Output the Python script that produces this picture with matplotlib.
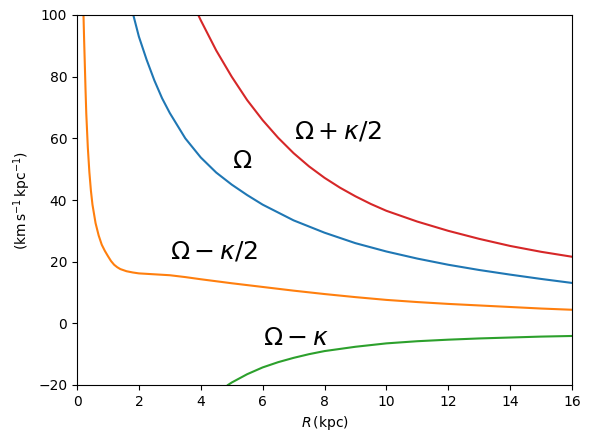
import matplotlib
matplotlib.use('Agg')
import matplotlib.pyplot as plt

# values (R in kpc, frequencies in km/s/kpc)
r_omega = [1.82, 2.0, 2.25, 2.5, 2.75, 3.0, 3.5, 4.0, 4.5, 5.0, 5.5, 6.0, 7.0, 8.0, 9.0, 10.0, 11.0, 12.0, 13.0, 14.0, 15.0, 16.0]
omega = [100, 93, 85.5, 78.8, 73, 68.2, 60, 53.8, 48.9, 45, 41.6, 38.5, 33.4, 29.4, 26.0, 23.3, 21.0, 19.0, 17.3, 15.8, 14.4, 13.1]

r_inner = [0.21, 0.23, 0.25, 0.275, 0.3, 0.35, 0.4, 0.45, 0.5, 0.6, 0.7, 0.8, 0.9, 1.0, 1.1, 1.2, 1.3, 1.4, 1.6, 1.8, 2.0, 2.5, 3.0, 3.5, 4.0, 5.0, 6.0, 7.0, 8.0, 9.0, 10.0, 11.0, 12.0, 13.0, 14.0, 15.0, 16.0]
omega_minus_half = [100, 92, 85, 76, 68, 57, 49, 43, 38.5, 32.5, 28.5, 25.5, 23.5, 21.8, 20.2, 19.0, 18.2, 17.6, 16.9, 16.5, 16.2, 15.9, 15.6, 15.0, 14.3, 13.0, 11.8, 10.6, 9.5, 8.5, 7.6, 6.9, 6.3, 5.8, 5.3, 4.8, 4.4]

r_outer = [4.88, 5.0, 5.5, 6.0, 6.5, 7.0, 7.5, 8.0, 9.0, 10.0, 11.0, 12.0, 13.0, 14.0, 15.0, 16.0]
omega_minus_kappa = [-20, -19.2, -16.5, -14.3, -12.6, -11.2, -10.0, -9.0, -7.6, -6.5, -5.8, -5.3, -4.9, -4.6, -4.3, -4.1]

r_upper = [3.92, 4.0, 4.5, 5.0, 5.5, 6.0, 6.5, 7.0, 7.5, 8.0, 8.5, 9.0, 9.5, 10.0, 11.0, 12.0, 13.0, 14.0, 15.0, 16.0]
omega_plus_half = [100, 98.3, 88.5, 80, 72.4, 65.9, 60.2, 55.2, 50.9, 47.2, 44.0, 41.2, 38.7, 36.5, 33.0, 30.0, 27.4, 25.1, 23.2, 21.6]

fig = plt.figure(figsize=(5.9, 4.42), dpi=100)
ax = fig.add_axes([77/590, 57/442, 495/590, 370/442])

ax.plot(r_omega, omega, color='C0')
ax.plot(r_inner, omega_minus_half, color='C1')
ax.plot(r_outer, omega_minus_kappa, color='C2')
ax.plot(r_upper, omega_plus_half, color='C3')

ax.text(5.0, 52.5, r'$\Omega$', fontsize=18, va='center')
ax.text(7.0, 62.3, r'$\Omega + \kappa/2$', fontsize=18, va='center')
ax.text(3.0, 23.3, r'$\Omega - \kappa/2$', fontsize=18, va='center')
ax.text(6.0, -4.9, r'$\Omega - \kappa$', fontsize=18, va='center')

ax.set_xlim(0, 16)
ax.set_ylim(-20, 100)
ax.set_xlabel(r'$R\,(\rm kpc)$')
ax.set_ylabel(r'$(\rm km\,s^{-1}\,kpc^{-1})$')

fig.savefig('out.png', dpi=100)
